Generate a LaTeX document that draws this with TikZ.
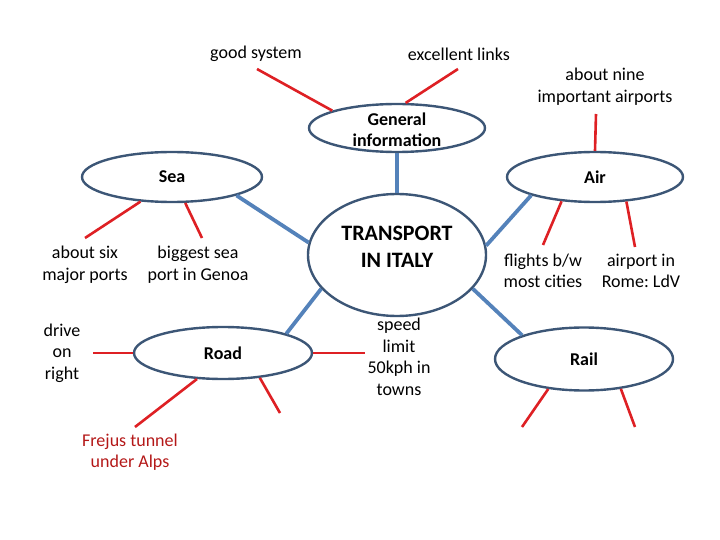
\documentclass[tikz,border=0pt]{standalone}
\usepackage{fontspec}
\setmainfont{Carlito}
\usetikzlibrary{shapes.geometric}
\definecolor{ellline}{RGB}{60,86,118}
\definecolor{hub}{RGB}{84,130,186}
\definecolor{twig}{RGB}{222,32,36}
\definecolor{darkred}{RGB}{180,24,24}
\tikzset{
  bubble/.style={ellipse, draw=ellline, line width=2.4pt, fill=white, inner sep=0pt,
    font=\fontsize{18}{21.6}\selectfont\bfseries, align=center},
  hubline/.style={draw=hub, line width=3.8pt},
  twigline/.style={draw=twig, line width=2.6pt},
  lbl/.style={font=\fontsize{18}{21.6}\selectfont, align=center, inner sep=0pt}
}
\begin{document}
\frenchspacing
\begin{tikzpicture}[x=1pt,y=-1pt]
\useasboundingbox (0,0) rectangle (720,540);
\node[bubble, minimum width=176pt, minimum height=48pt] (gi) at (397,128) {};
\node[lbl, font=\fontsize{18}{20.5}\selectfont\bfseries] (gitxt) at (397,130) {General\\information};
\node[bubble, minimum width=180pt, minimum height=50pt] (sea) at (172,177) {Sea};
\node[bubble, minimum width=176pt, minimum height=50pt] (air) at (595,177) {Air};
\node[bubble, minimum width=178pt, minimum height=122pt] (tr) at (397,255) {};
\node[lbl, font=\fontsize{22}{27}\selectfont\bfseries] (trtxt) at (397,247) {TRANSPORT\\IN ITALY};
\node[bubble, minimum width=178pt, minimum height=52pt] (road) at (223,353) {Road};
\node[bubble, minimum width=178pt, minimum height=63pt] (rail) at (584,359) {Rail};

% hub connectors
\draw[hubline] (gi.270) -- (tr.90);
\draw[hubline] (sea.344) -- (tr.172);
\draw[hubline] (air.196) -- (tr.6);
\draw[hubline] (road.17) -- (tr.204);
\draw[hubline] (rail.159) -- (tr.336);

% free ends
\coordinate (c1) at (257,69);
\coordinate (c2) at (458,69);
\coordinate (c3) at (596,114);
\coordinate (c4) at (85,238);
\coordinate (c5) at (202,238);
\coordinate (c6) at (543,245);
\coordinate (c7) at (635,247);
\coordinate (c8) at (93,353);
\coordinate (c9) at (365,353);
\coordinate (c10) at (135,427);
\coordinate (c11) at (280,413);
\coordinate (c12) at (522,427);
\coordinate (c13) at (635,427);

\draw[twigline] (gi.165) -- (c1);
\draw[twigline] (gi.71) -- (c2);
\draw[twigline] (air.90) -- (c3);
\draw[twigline] (sea.218) -- (c4);
\draw[twigline] (sea.297) -- (c5);
\draw[twigline] (air.216) -- (c6);
\draw[twigline] (air.322) -- (c7);
\draw[twigline] (road.180) -- (c8);
\draw[twigline] (road.0) -- (c9);
\draw[twigline] (road.225) -- (c10);
\draw[twigline] (road.326) -- (c11);
\draw[twigline] (rail.220) -- (c12);
\draw[twigline] (rail.321) -- (c13);

% labels
\node[lbl] (t1) at (256,54) {good system};
\node[lbl] (t2) at (459,54) {excellent links};
\node[lbl] (t3) at (605,87) {about nine\\important airports};
\node[lbl] (t4) at (85,265) {about six\\major ports};
\node[lbl] (t5) at (198,265) {biggest sea\\port in Genoa};
\node[lbl] (t6) at (543,271) {flights b/w\\most cities};
\node[lbl] (t7) at (641,271) {airport in\\Rome: LdV};
\node[lbl] (t8) at (62,353) {drive\\on\\right};
\node[lbl] (t9) at (399,357) {speed\\limit\\50kph in\\towns};
\node[lbl, text=darkred] (t10) at (130,452) {Frejus tunnel\\under Alps};
\end{tikzpicture}
\end{document}
